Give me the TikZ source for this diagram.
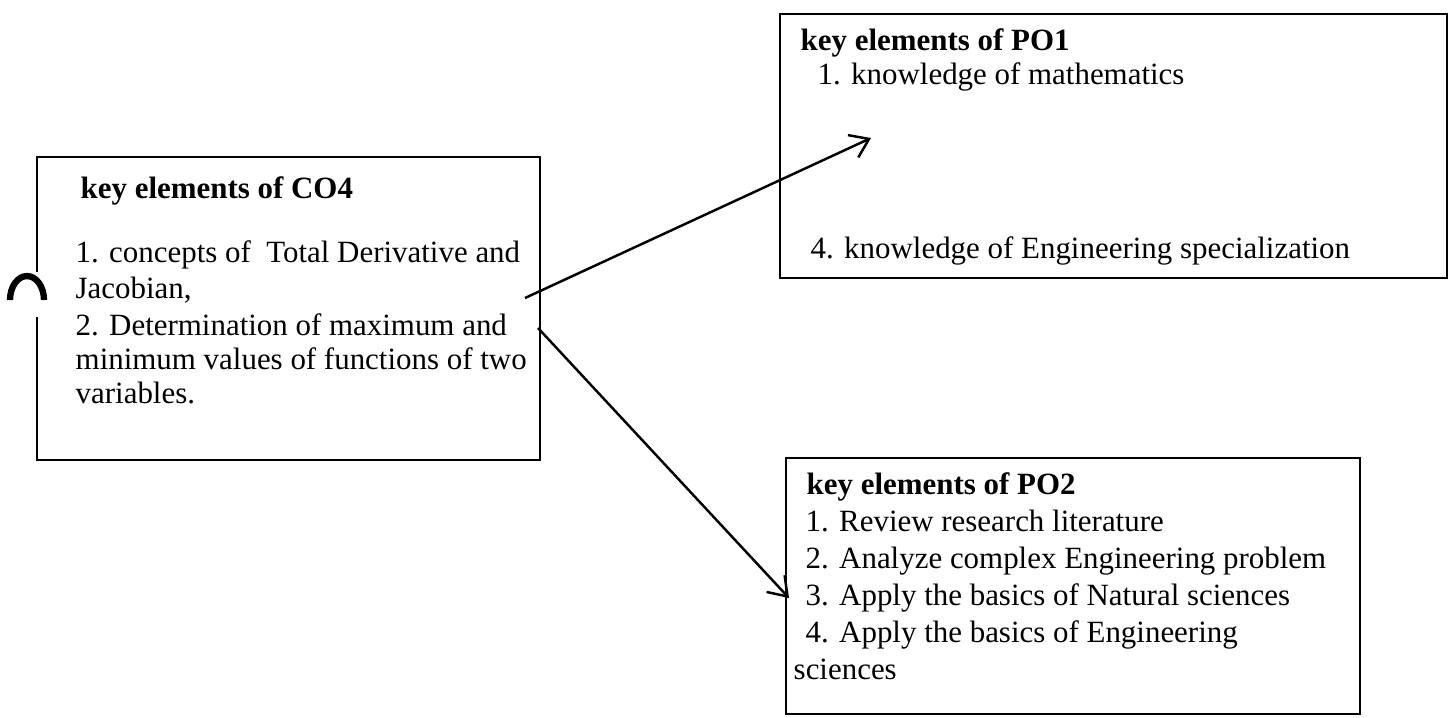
\documentclass[tikz,border=0pt]{standalone}
\usepackage{fontspec}
\setmainfont{Liberation Serif}
\usetikzlibrary{arrows.meta}
\tikzset{keybox/.style={draw, line width=0.55pt, inner sep=0pt, outer sep=0pt, anchor=north west},
         keyline/.style={anchor=base west, inner sep=0pt, font=\fontsize{8.8}{10}\selectfont},
         keyhead/.style={keyline, font=\fontsize{8.8}{10}\selectfont\bfseries},
         link/.style={line width=0.7pt, -{Straight Barb[length=5pt,width=7pt]}}}

\begin{document}
\begin{tikzpicture}[x=0.1mm,y=-0.1mm]
  \useasboundingbox (0,0) rectangle (1449,717);

  \node[keybox, draw=none, minimum width=50.3mm, minimum height=30.3mm] (co4) at (37,157) {};
  \draw[line width=0.55pt] (co4.west |- 0,272) -- (co4.north west) -- (co4.north east) -- (co4.south east) -- (co4.south west) -- (co4.west |- 0,317);
  \draw[line width=1.8pt] (10,300) arc[start angle=180,end angle=360,x radius=17,y radius=24];
  \node[keybox, minimum width=66.7mm, minimum height=26.4mm] (po1) at (780,14) {};
  \node[keybox, minimum width=57.4mm, minimum height=25.6mm] (po2) at (786,458) {};

  \node[keyhead] (co4h) at (80,198) {key elements of CO4};
  \node[keyline] (co4a) at (75,262) {1. concepts of\ \ Total Derivative and};
  \node[keyline] (co4b) at (75,298) {Jacobian,};
  \node[keyline] (co4c) at (75,335) {2. Determination of maximum and};
  \node[keyline] (co4d) at (75,369) {minimum values of functions of two};
  \node[keyline] (co4e) at (75,403) {variables.};

  \node[keyhead] (po1h) at (800,50) {key elements of PO1};
  \node[keyline] (po1a) at (817,84) {1. knowledge of mathematics};
  \node[keyline] (po1d) at (810,258) {4. knowledge of Engineering specialization};

  \node[keyhead] (po2h) at (806,494) {key elements of PO2};
  \node[keyline] (po2a) at (805,531) {1. Review research literature};
  \node[keyline] (po2b) at (805,568) {2. Analyze complex Engineering problem};
  \node[keyline] (po2c) at (805,605) {3. Apply the basics of Natural sciences};
  \node[keyline] (po2d) at (805,642) {4. Apply the basics of Engineering};
  \node[keyline] (po2e) at (793,679) {sciences};

  \coordinate (co4o1) at (525,298);
  \coordinate (po1i) at (871,138);
  \coordinate (co4o2) at (538,328);
  \coordinate (po2i) at (789,598);
  \draw[link] (co4o1) -- (po1i);
  \draw[link] (co4o2) -- (po2i);
\end{tikzpicture}
\end{document}
